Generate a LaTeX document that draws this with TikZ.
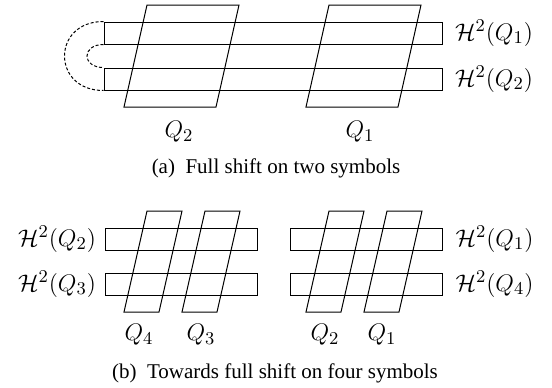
\documentclass[tikz,border=0pt]{standalone}
\usepackage{fontspec}
\newfontfamily\capfont{Liberation Serif}
\usetikzlibrary{positioning}

\begin{document}
\begin{tikzpicture}[
        x=0.5pt, y=-0.5pt,
        line width=0.5pt,
        strip/.style={rectangle, draw, inner sep=0pt, minimum height=11pt},
        longstrip/.style={strip, minimum width=169pt},
        shortstrip/.style={strip, minimum width=76pt},
        lab/.style={inner sep=0pt, font=\fontsize{12.6}{14}\selectfont},
        subcap/.style={inner sep=0pt, font=\capfont\fontsize{10.5}{12}\selectfont},
        link/.style={dash pattern=on 1.5pt off 1pt},
    ]
    \useasboundingbox (0,0) rectangle (552,387);

    % (a) two symbols
    \node[longstrip] (top1) at (273,33) {};
    \node[longstrip] (top2) at (273,79) {};
    \draw (147,5) -- (239,5) -- (216,107) -- (124,107) -- cycle;
    \draw (329,5) -- (421,5) -- (398,107) -- (306,107) -- cycle;

    \draw[link] (top1.north west) .. controls +(-52,0) and +(-52,0) .. (top2.south west);
    \draw[link] (top1.south west) .. controls +(-22,0) and +(-22,0) .. (top2.north west);

    \node[lab, right=6pt of top1] (ha1) {$\mathcal{H}^2(Q_1)$};
    \node[lab, right=6pt of top2] (ha2) {$\mathcal{H}^2(Q_2)$};
    \node[lab] (qa2) at (179,132) {$Q_2$};
    \node[lab] (qa1) at (360,132) {$Q_1$};
    \node[subcap] (capa) at (276,168) {(a)\enspace Full shift on two symbols};

    % (b) four symbols
    \node[shortstrip] (left1) at (181,239) {};
    \node[shortstrip] (left2) at (181,284) {};
    \node[shortstrip] (right1) at (366.5,239) {};
    \node[shortstrip] (right2) at (366.5,284) {};
    \draw (147,211) -- (182,211) -- (159,312) -- (124,312) -- cycle;
    \draw (205,211) -- (240,211) -- (217,312) -- (182,312) -- cycle;
    \draw (329,211) -- (364,211) -- (341,312) -- (306,312) -- cycle;
    \draw (387,211) -- (422,211) -- (399,312) -- (364,312) -- cycle;

    \node[lab, left=4pt of left1] (hb2) {$\mathcal{H}^2(Q_2)$};
    \node[lab, left=4pt of left2] (hb3) {$\mathcal{H}^2(Q_3)$};
    \node[lab, right=6pt of right1] (hb1) {$\mathcal{H}^2(Q_1)$};
    \node[lab, right=6pt of right2] (hb4) {$\mathcal{H}^2(Q_4)$};
    \node[lab] (qb4) at (139,335) {$Q_4$};
    \node[lab] (qb3) at (201,335) {$Q_3$};
    \node[lab] (qb2) at (325,335) {$Q_2$};
    \node[lab] (qb1) at (382,335) {$Q_1$};
    \node[subcap] (capb) at (275,373) {(b)\enspace Towards full shift on four symbols};

\end{tikzpicture}
\end{document}
